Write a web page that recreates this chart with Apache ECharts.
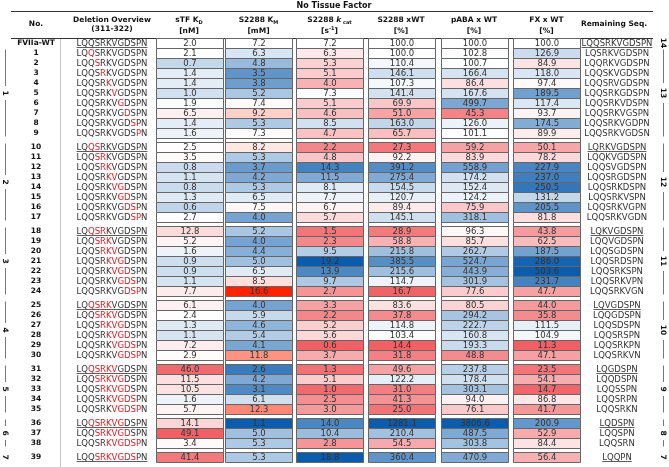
<!DOCTYPE html>
<html>
<head>
<meta charset="utf-8">
<script src="https://cdn.jsdelivr.net/npm/echarts@6.0.0/dist/echarts.min.js"></script>
<style>
html,body{margin:0;padding:0;background:#ffffff;}
#chart{width:669px;height:467px;}
</style>
</head>
<body>
<div id="chart"></div>
<script>
// ---------------- DATA ----------------
const rowNames = ['FVIIa-WT','1','2','3','4','5','6','7','8','9','10','11','12','13','14','15','16','17','18','19','20','21','22','23','24','25','26','27','28','29','30','31','32','33','34','35','36','37','38','39'];
const wtSequence = 'LQQSRKVGDSPN';
// first deleted residue (1-based position in wtSequence) and number of deleted residues
const deletionStart  = [0, 3,4,5,6,7,8,9,10,11, 3,4,5,6,7,8,9,10, 3,4,5,6,7,8,9, 3,4,5,6,7,8, 3,4,5,6,7, 3,4,6, 4];
const deletionLength = [0, 1,1,1,1,1,1,1,1,1, 2,2,2,2,2,2,2,2, 3,3,3,3,3,3,3, 4,4,4,4,4,4, 5,5,5,5,5, 6,6,6, 7];
const remainingSeq = ['LQQSRKVGDSPN','LQSRKVGDSPN','LQQRKVGDSPN','LQQSKVGDSPN','LQQSRVGDSPN','LQQSRKGDSPN','LQQSRKVDSPN','LQQSRKVGSPN','LQQSRKVGDPN','LQQSRKVGDSN',
  'LQRKVGDSPN','LQQKVGDSPN','LQQSVGDSPN','LQQSRGDSPN','LQQSRKDSPN','LQQSRKVSPN','LQQSRKVGPN','LQQSRKVGDN',
  'LQKVGDSPN','LQQVGDSPN','LQQSGDSPN','LQQSRDSPN','LQQSRKSPN','LQQSRKVPN','LQQSRKVGN',
  'LQVGDSPN','LQQGDSPN','LQQSDSPN','LQQSRSPN','LQQSRKPN','LQQSRKVN',
  'LQGDSPN','LQQDSPN','LQQSSPN','LQQSRPN','LQQSRKN',
  'LQDSPN','LQQSPN','LQQSRN',
  'LQQPN'];
const sTF_KD = [2.0,2.1,0.7,1.4,1.4,1.0,1.9,6.5,1.4,1.6, 2.5,3.5,0.8,1.1,0.8,1.3,0.6,2.7, 12.8,5.2,1.6,0.9,0.9,1.1,7.7, 6.1,2.4,1.3,1.1,7.2,2.9, 46.0,11.5,10.5,1.6,5.7, 14.1,49.1,3.4, 41.4];
const S2288_KM = [7.2,6.3,4.8,3.5,3.8,5.2,7.4,9.2,5.3,7.3, 8.2,5.3,3.7,4.2,5.3,6.5,7.5,4.0, 5.2,4.0,4.4,5.0,6.5,8.5,16.6, 4.0,5.9,4.6,5.4,4.1,11.8, 2.6,4.2,3.1,6.1,12.3, 1.1,5.0,5.3, 5.3];
const S2288_kcat = [7.2,6.3,5.3,5.1,4.0,7.3,5.1,4.6,8.5,4.7, 2.2,4.8,14.3,11.5,8.1,7.7,6.7,5.7, 1.5,2.3,9.5,19.2,13.9,9.7,2.7, 3.3,2.2,5.2,5.6,0.6,3.7, 1.3,5.1,1.0,2.5,3.0, 14.0,10.4,2.8, 18.8];
const S2288_xWT = [100.0,100.0,110.4,146.1,107.3,141.4,69.9,51.0,163.0,65.7, 27.3,92.2,391.2,275.4,154.5,120.7,89.4,145.1, 28.9,58.8,215.8,385.5,215.6,114.7,16.7, 83.6,37.8,114.8,103.4,14.4,31.8, 49.6,122.2,31.0,41.3,25.0, 1281.1,210.4,54.5, 360.4];
const pABA_xWT = [100.0,102.8,100.7,166.4,86.4,167.6,499.7,45.3,126.0,101.1, 59.2,83.9,558.9,174.2,152.4,124.2,75.9,318.1, 96.3,85.7,262.7,524.7,443.9,301.9,77.6, 80.5,294.2,222.7,160.8,193.3,48.8, 237.8,178.4,303.1,94.0,76.1, 3806.6,487.5,303.8, 470.9];
const FX_xWT = [100.0,126.9,84.9,118.0,97.4,189.5,117.4,93.7,174.5,89.9, 50.1,78.2,227.9,237.0,250.5,131.2,205.5,81.8, 43.8,62.5,187.5,286.0,503.6,231.7,47.7, 44.0,35.8,111.5,104.9,11.3,47.1, 23.5,54.1,14.7,86.8,41.7, 200.9,52.9,84.4, 56.4];
const leftGroupLabels  = ['', '1','2','3','4','5','6','7'];
const rightGroupLabels = ['14','13','12','11','10','9','8','7'];
const title = 'No Tissue Factor';

// ---------------- LAYOUT / STYLE ----------------
const FONT = 'DejaVu Sans';
const columns = [sTF_KD, S2288_KM, S2288_kcat, S2288_xWT, pABA_xWT, FX_xWT];
const COL_X = [189, 258.5, 329.5, 401, 474, 546.5];
const CELL_W = 67;
const X_NO = 36, X_DEL = 112, X_REM = 617, X_REM_HEAD = 614, X_LEFT = 5, X_RIGHT = 663;
const GAP = 0.4;
const RED_TXT = '#e3161d';
function rowTop(i){ return i + GAP*Math.max(0, deletionLength[i]-1); }
const nGroups = 8;
const Y_MAX = rowTop(rowNames.length-1) + 1;

const BLUE_END=[11,92,173], RED_END=[240,96,100], RED_HOT=[255,34,0];
function mix(c,t){ t=Math.max(0,Math.min(1,t));
  return 'rgb('+Math.round(255+(c[0]-255)*t)+','+Math.round(255+(c[1]-255)*t)+','+Math.round(255+(c[2]-255)*t)+')'; }
const scales = [
  {blue:v=>(2.0-v)/2.0*0.37, red:v=>(v-2.0)/47.1, redEnd:RED_END},
  {blue:v=>(7.2-v)/5.7, red:v=>(v-7.2)/9.4, redEnd:RED_HOT},
  {blue:v=>Math.log(v/7.2)/0.9, red:v=>(7.2-v)/6.6, redEnd:RED_END},
  {blue:v=>Math.log(v/100)/Math.log(7), red:v=>(100-v)/85.6, redEnd:RED_END},
  {blue:v=>Math.log(v/100)/Math.log(20), red:v=>(100-v)/70, redEnd:RED_END},
  {blue:v=>Math.log(v/100)/Math.log(3), red:v=>(100-v)/88.7, redEnd:RED_END}
];
function colorFor(c,v){ const s=scales[c]; const b=s.blue(v); if(b>0) return mix(BLUE_END,b);
  const r=s.red(v); if(r>0) return mix(s.redEnd,r); return '#ffffff'; }

const mctx = document.createElement('canvas').getContext('2d');
function textW(str, font){ mctx.font = font; return mctx.measureText(str).width; }

function isUnderlined(i){ return i===0 || (deletionLength[i]>=2 && deletionLength[i-1]!==deletionLength[i]); }

// data for series
const cellData = [];
columns.forEach((arr,c)=>arr.forEach((v,i)=>cellData.push([c,i,v])));
const gapData = [];
for(let g=1; g<7; g++){
  let last=-1; deletionLength.forEach((d,i)=>{ if(d===g) last=i; });
  columns.forEach((arr,c)=>gapData.push([c, rowTop(last)+1]));
}
const rowData = rowNames.map((n,i)=>[i]);
const groupData = []; for(let g=0; g<nGroups; g++) groupData.push([g]);

const SEQ_FONT = '8.5px "'+FONT+'"';
const chart = echarts.init(document.getElementById('chart'), null, {renderer:'canvas'});

function txt(x,y,text,extra){
  return {type:'text', style:Object.assign({text:text, x:x, y:y, align:'center', verticalAlign:'middle', textAlign:'center', textVerticalAlign:'middle', fill:'#222'}, extra||{})};
}

const option = {
  animation:false,
  backgroundColor:'#ffffff',
  grid:{left:0, right:0, top:38, bottom:467-38-Y_MAX*10},
  xAxis:{type:'value', min:0, max:669, show:false},
  yAxis:{type:'value', min:0, max:Y_MAX, inverse:true, show:false},
  graphic:[
    {type:'text', x:334, y:6, style:{text:title, font:'bold 8px "'+FONT+'"', fill:'#111', align:'center', verticalAlign:'middle', textAlign:'center', textVerticalAlign:'middle'}},
    {type:'line', shape:{x1:11, y1:11.5, x2:653, y2:11.5}, style:{stroke:'#333', lineWidth:1}},
    {type:'line', shape:{x1:11, y1:38.5, x2:653, y2:38.5}, style:{stroke:'#333', lineWidth:1}},
    {type:'line', shape:{x1:60.5, y1:39, x2:60.5, y2:467}, style:{stroke:'#c8c8c8', lineWidth:1}}
  ],
  series:[
    { // header texts
      type:'custom', coordinateSystem:'cartesian2d', data:[[0]], clip:false, silent:true,
      renderItem:function(params, api){
        const H='bold 7.5px "'+FONT+'"';
        const base={fontSize:7.5, fontWeight:'bold', fontFamily:FONT, fill:'#111', lineHeight:10};
        const sub={fontSize:5, fontWeight:'bold', fontFamily:FONT, fill:'#111', verticalAlign:'bottom', lineHeight:6};
        const sup={fontSize:5, fontWeight:'bold', fontFamily:FONT, fill:'#111', verticalAlign:'top', lineHeight:6};
        const it={fontSize:7.5, fontWeight:'bold', fontStyle:'italic', fontFamily:FONT, fill:'#111', lineHeight:10};
        const rich={b:base, s:sub, u:sup, i:it};
        const L1=20, L2=31.5;
        function h(x,y,t){ return {type:'text', style:{text:t, x:x, y:y, rich:rich, align:'center', verticalAlign:'middle', textAlign:'center', textVerticalAlign:'middle', font:H, fill:'#111'}}; }
        return {type:'group', children:[
          h(X_NO,24.5,'{b|No.}'),
          h(X_DEL,L1,'{b|Deletion Overview}'),
          h(X_DEL,29,'{b|(311-322)}'),
          h(COL_X[0],L1,'{b|sTF K}{s|D}'), h(COL_X[0],L2,'{b|[nM]}'),
          h(COL_X[1],L1,'{b|S2288 K}{s|M}'), h(COL_X[1],L2,'{b|[mM]}'),
          h(COL_X[2],L1,'{b|S2288 }{i|k}{s| cat}'), h(COL_X[2],L2,'{b|[s}{u|-1}{b|]}'),
          h(COL_X[3],L1,'{b|S2288 xWT}'), h(COL_X[3],L2,'{b|[%]}'),
          h(COL_X[4],L1,'{b|pABA x WT}'), h(COL_X[4],L2,'{b|[%]}'),
          h(COL_X[5],L1,'{b|FX x WT}'), h(COL_X[5],L2,'{b|[%]}'),
          h(X_REM_HEAD,24.5,'{b|Remaining Seq.}')
        ]};
      }
    },
    { // gap boxes
      type:'custom', coordinateSystem:'cartesian2d', data:gapData, clip:false, silent:true,
      encode:{x:0,y:1},
      renderItem:function(params, api){
        const c=api.value(0), y0=api.value(1);
        const p0=api.coord([COL_X[c]-CELL_W/2, y0]), p1=api.coord([COL_X[c]+CELL_W/2, y0+GAP]);
        const x=Math.round(p0[0])+0.5, y=Math.round(p0[1])+0.5;
        return {type:'rect', shape:{x:x, y:y, width:Math.round(p1[0])-Math.round(p0[0]), height:Math.round(p1[1])-Math.round(p0[1])}, style:{fill:'#ffffff', stroke:'#666', lineWidth:1}};
      }
    },
    { // value cells
      type:'custom', coordinateSystem:'cartesian2d', data:cellData, clip:false, silent:true,
      encode:{x:0,y:1},
      renderItem:function(params, api){
        const c=api.value(0), i=api.value(1), v=api.value(2);
        const yt=rowTop(i);
        const p0=api.coord([COL_X[c]-CELL_W/2, yt]), p1=api.coord([COL_X[c]+CELL_W/2, yt+1]);
        const x=Math.round(p0[0])+0.5, y=Math.round(p0[1])+0.5;
        const w=Math.round(p1[0])-Math.round(p0[0]), h=Math.round(p1[1])-Math.round(p0[1]);
        return {type:'group', children:[
          {type:'rect', shape:{x:x,y:y,width:w,height:h}, style:{fill:colorFor(c,v), stroke:'#666', lineWidth:1}},
          txt(x+w/2, y+h/2+0.5, v.toFixed(1), {font:'8.5px "'+FONT+'"', fill:'#333'})
        ]};
      }
    },
    { // row labels and sequences
      type:'custom', coordinateSystem:'cartesian2d', data:rowData, clip:false, silent:true,
      encode:{y:0},
      renderItem:function(params, api){
        const i=api.value(0);
        const yc=api.coord([0, rowTop(i)+0.5])[1];
        const kids=[];
        kids.push(txt(api.coord([X_NO,0])[0], yc+0.5, rowNames[i], {font:'bold 7.5px "'+FONT+'"', fill:'#111'}));
        let rich;
        if(deletionLength[i]===0){ rich='{k|'+wtSequence+'}'; }
        else {
          const s=deletionStart[i]-1, e=s+deletionLength[i];
          const pre=wtSequence.slice(0,s), del=wtSequence.slice(s,e), post=wtSequence.slice(e);
          rich=(pre?'{k|'+pre+'}':'')+'{r|'+del+'}'+(post?'{k|'+post+'}':'');
        }
        const xd=api.coord([X_DEL,0])[0];
        kids.push({type:'text', style:{text:rich, x:xd, y:yc+0.5, align:'center', verticalAlign:'middle', textAlign:'center', textVerticalAlign:'middle', font:SEQ_FONT,
          rich:{k:{fontSize:8.5, fontFamily:FONT, fill:'#333'}, r:{fontSize:8.5, fontFamily:FONT, fill:RED_TXT}}}});
        const xr=api.coord([X_REM,0])[0];
        kids.push(txt(xr, yc+0.5, remainingSeq[i], {font:SEQ_FONT, fill:'#333'}));
        if(isUnderlined(i)){
          const w1=textW(wtSequence, SEQ_FONT), w2=textW(remainingSeq[i], SEQ_FONT);
          const uy=Math.round(yc+4)+0.5;
          kids.push({type:'line', shape:{x1:xd-w1/2, y1:uy, x2:xd+w1/2, y2:uy}, style:{stroke:'#333', lineWidth:0.8}});
          kids.push({type:'line', shape:{x1:xr-w2/2, y1:uy, x2:xr+w2/2, y2:uy}, style:{stroke:'#333', lineWidth:0.8}});
        }
        return {type:'group', children:kids};
      }
    },
    { // group brackets
      type:'custom', coordinateSystem:'cartesian2d', data:groupData, clip:false, silent:true,
      encode:{x:0},
      renderItem:function(params, api){
        const g=api.value(0);
        let first=-1,last=-1; deletionLength.forEach((d,i)=>{ if(d===g){ if(first<0) first=i; last=i; } });
        const yt=rowTop(first), yb=rowTop(last)+1, ym=(yt+yb)/2;
        const kids=[];
        const sides=[];
        if(leftGroupLabels[g]) sides.push([X_LEFT, leftGroupLabels[g]]);
        sides.push([X_RIGHT, rightGroupLabels[g]]);
        sides.forEach(function(sd){
          const xp=api.coord([sd[0],0])[0];
          const pm=api.coord([0,ym])[1];
          kids.push({type:'text', x:xp, y:pm, rotation:-Math.PI/2, style:{text:sd[1], x:0, y:0, align:'center', verticalAlign:'middle', textAlign:'center', textVerticalAlign:'middle', font:'bold 7.5px "'+FONT+'"', fill:'#111'}});
          if(last>first){
            const half = sd[1].length>1 ? 1.0 : 0.7;
            const a=api.coord([0,yt+0.15])[1], b=api.coord([0,ym-half])[1], c=api.coord([0,ym+half])[1], d=api.coord([0,yb-0.15])[1];
            const xl=Math.round(xp)+0.5;
            kids.push({type:'line', shape:{x1:xl,y1:a,x2:xl,y2:b}, style:{stroke:'#777', lineWidth:1}});
            kids.push({type:'line', shape:{x1:xl,y1:c,x2:xl,y2:d}, style:{stroke:'#777', lineWidth:1}});
          }
        });
        return {type:'group', children:kids};
      }
    }
  ]
};
chart.setOption(option);
</script>
</body>
</html>
